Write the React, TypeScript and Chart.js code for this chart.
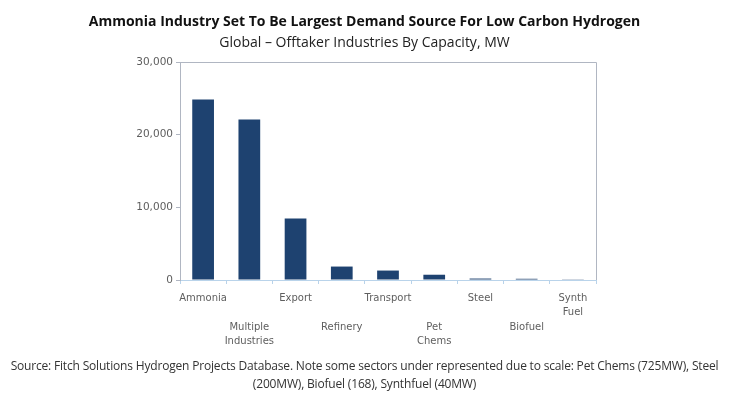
import React, { useEffect, useRef } from "react";
import { Chart, registerables } from "chart.js";

Chart.register(...registerables);

const categories: string[][] = [
  ["Ammonia"],
  ["Multiple", "Industries"],
  ["Export"],
  ["Refinery"],
  ["Transport"],
  ["Pet", "Chems"],
  ["Steel"],
  ["Biofuel"],
  ["Synth", "Fuel"],
];
const capacityMW: number[] = [24850, 22100, 8450, 1850, 1300, 725, 200, 168, 40];
const yTicks: number[] = [0, 10000, 20000, 30000];

const TITLE = "Ammonia Industry Set To Be Largest Demand Source For Low Carbon Hydrogen";
const SUBTITLE = "Global \u2013 Offtaker Industries By Capacity, MW";
const SOURCE =
  "Source: Fitch Solutions Hydrogen Projects Database. Note some sectors under represented due to scale: Pet Chems (725MW), Steel (200MW), Biofuel (168), Synthfuel (40MW)";

export default function App() {
  const ref = useRef<HTMLCanvasElement | null>(null);

  useEffect(() => {
    document.body.style.margin = "0";
    const canvas = ref.current;
    if (!canvas) return;
    const chart = new Chart(canvas, {
      type: "bar",
      data: {
        labels: categories.map((c) => c.join(" ")),
        datasets: [
          {
            data: capacityMW,
            backgroundColor: "#1e4270",
            borderWidth: 0,
            barPercentage: 0.47,
            categoryPercentage: 1,
          },
        ],
      },
      options: {
        animation: false,
        responsive: false,
        maintainAspectRatio: false,
        layout: { padding: { left: 0, top: 62, right: 133, bottom: 0 } },
        plugins: {
          legend: { display: false },
          tooltip: { enabled: false },
          title: { display: false },
        },
        scales: {
          x: {
            offset: true,
            border: { display: true, color: "#b9d3ea", width: 1 },
            grid: {
              display: true,
              offset: true,
              drawOnChartArea: false,
              drawTicks: true,
              tickLength: 4,
              color: "#b9d3ea",
            },
            ticks: {
              autoSkip: false,
              maxRotation: 0,
              minRotation: 0,
              padding: 7,
              color: "#5e5e5e",
              font: { family: "DejaVu Sans", size: 10, lineHeight: 1.45 },
              callback: (_v: any, i: number) => {
                const lines = categories[i];
                return i % 2 === 1 ? ["", "", ...lines] : lines;
              },
            },
            afterFit: (s: any) => {
              s.height = 119;
            },
          },
          y: {
            min: 0,
            max: 30000,
            border: { display: true, color: "#b0b6c2", width: 1 },
            grid: {
              display: true,
              drawOnChartArea: false,
              drawTicks: true,
              tickLength: 4,
              color: "#b0b6c2",
            },
            afterBuildTicks: (s: any) => {
              s.ticks = yTicks.map((v) => ({ value: v }));
            },
            ticks: {
              padding: 3,
              color: "#5e5e5e",
              font: { family: "DejaVu Sans", size: 10.5 },
              callback: (v: any) => Number(v).toLocaleString("en-US"),
            },
            afterFit: (s: any) => {
              s.width = 180;
            },
          },
        },
      },
      plugins: [
        {
          id: "frame",
          afterDraw: (c: any) => {
            const { ctx, chartArea } = c;
            ctx.save();
            ctx.strokeStyle = "#b0b6c2";
            ctx.lineWidth = 1;
            ctx.beginPath();
            ctx.moveTo(chartArea.left, chartArea.top + 0.5);
            ctx.lineTo(chartArea.right + 0.5, chartArea.top + 0.5);
            ctx.lineTo(chartArea.right + 0.5, chartArea.bottom);
            ctx.stroke();
            ctx.restore();
          },
        },
      ],
    });
    return () => chart.destroy();
  }, []);

  return (
    <div style={{ position: "relative", width: 729, height: 399, background: "#fff", overflow: "hidden" }}>
      <canvas ref={ref} width={729} height={399} style={{ position: "absolute", left: 0, top: 0 }} />
      <div
        style={{
          position: "absolute",
          left: 0,
          width: 729,
          top: 12,
          textAlign: "center",
          fontFamily: "'Open Sans'",
          fontWeight: 700,
          fontSize: 14,
          color: "#111",
          lineHeight: "18px",
        }}
      >
        {TITLE}
      </div>
      <div
        style={{
          position: "absolute",
          left: 0,
          width: 729,
          top: 33,
          textAlign: "center",
          fontFamily: "'Open Sans'",
          fontSize: 14,
          color: "#222",
          lineHeight: "18px",
        }}
      >
        {SUBTITLE}
      </div>
      <div
        style={{
          position: "absolute",
          left: 4,
          width: 721,
          top: 357,
          textAlign: "center",
          fontFamily: "'Open Sans'",
          fontSize: 12,
          letterSpacing: -0.18,
          color: "#333",
          lineHeight: "18px",
        }}
      >
        {SOURCE}
      </div>
    </div>
  );
}
